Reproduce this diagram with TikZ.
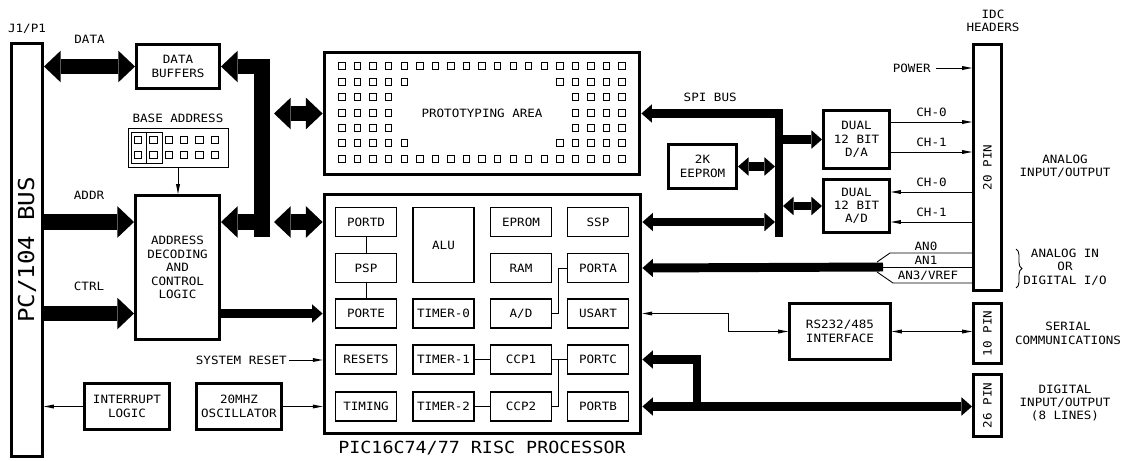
\documentclass[tikz,border=0pt]{standalone}
\usepackage{fontspec}
\setmainfont{DejaVu Sans Mono}[FakeStretch=1.1]
\usepackage{tikz}
\usetikzlibrary{arrows.meta}
\usetikzlibrary{calc}
\usetikzlibrary{decorations.pathreplacing}

\begin{document}
\begin{tikzpicture}[x=0.02cm, y=-0.02cm,
    every node/.style={font=\fontsize{6.5}{7.6}\selectfont, align=center, inner sep=0pt},
    blk/.style={draw, line width=1.7pt},
    cpu/.style={draw, line width=2.2pt},
    sub/.style={draw, line width=0.6pt, minimum width=1.22cm, minimum height=0.58cm},
    pad/.style={line width=0.5pt},
    wire/.style={line width=0.5pt, >={Triangle[width=2.3pt,length=5.6pt,line width=0pt]}},
    bus/.style={line width=5.1pt, >={Triangle[width=10.5pt,length=6pt,line width=0pt]}},
    widebus/.style={line width=9pt, >={Triangle[width=18pt,length=9.5pt,line width=0pt]}}]

  \useasboundingbox (0,0) rectangle (1122,460);

  % PC/104 side
  \node[blk, minimum width=0.62cm, minimum height=8.26cm] (pc) at (27,250)
      {\rotatebox{90}{\fontsize{12.5}{12.5}\selectfont PC/104 BUS}};
  \node (j1) at (27,29) {J1/P1};

  \node[blk, minimum width=1.66cm, minimum height=0.88cm] (buf) at (178,66.5) {DATA\\BUFFERS};
  \node (base) at (178,118) {BASE ADDRESS};
  \node[draw, pad, minimum width=2cm, minimum height=0.78cm] (dip) at (178,147.5) {};
  \draw[pad] (131,132) rectangle (162,163) (146.5,132) -- (146.5,163);
  \foreach \c in {0,...,5}
    \foreach \r in {140,155}
      \draw[pad] (138+15.4*\c,\r) +(-3.7,-3.7) rectangle +(3.7,3.7);
  \node[blk, minimum width=1.68cm, minimum height=2.88cm] (addr) at (177.5,267.5)
      {ADDRESS\\DECODING\\AND\\CONTROL\\LOGIC};
  \node[blk, minimum width=1.7cm, minimum height=0.92cm] (int) at (127,406.5) {INTERRUPT\\LOGIC};
  \node[blk, minimum width=1.7cm, minimum height=0.92cm] (osc) at (239,406.5) {20MHZ\\OSCILLATOR};
  \node[anchor=east] (rst) at (287,360) {SYSTEM RESET};

  % prototyping area
  \node[cpu, minimum width=6.3cm, minimum height=2.44cm] (proto) at (482,113.5) {PROTOTYPING AREA};
  \foreach \r in {66,159}
    \foreach \c in {0,...,18}
      \draw[pad] (342+15.56*\c,\r) +(-3.2,-3.2) rectangle +(3.2,3.2);
  \foreach \r in {82,143}
    \foreach \c in {0,1,2,3,4,14,15,16,17,18}
      \draw[pad] (342+15.56*\c,\r) +(-3.2,-3.2) rectangle +(3.2,3.2);
  \foreach \r in {97,113,128}
    \foreach \c in {0,1,2,3,15,16,17,18}
      \draw[pad] (342+15.56*\c,\r) +(-3.2,-3.2) rectangle +(3.2,3.2);

  % processor
  \node[cpu, minimum width=6.32cm, minimum height=4.78cm] (proc) at (482.5,314) {};
  \node[font=\fontsize{9.5}{9.5}\selectfont] (proclbl) at (482,448) {PIC16C74/77 RISC PROCESSOR};
  \node[sub] (portd) at (366,222) {PORTD};
  \node[sub, minimum height=1.5cm] (alu) at (443.5,245) {ALU};
  \node[sub] (eprom) at (521,222) {EPROM};
  \node[sub] (ssp) at (598,222) {SSP};
  \node[sub] (psp) at (366,268) {PSP};
  \node[sub] (ram) at (521,268) {RAM};
  \node[sub] (porta) at (598,268) {PORTA};
  \node[sub] (porte) at (366,313.5) {PORTE};
  \node[sub] (tmr0) at (443.5,313.5) {TIMER-0};
  \node[sub] (adcv) at (521,313.5) {A/D};
  \node[sub] (usart) at (598,313.5) {USART};
  \node[sub] (resets) at (366,359.5) {RESETS};
  \node[sub] (tmr1) at (443.5,359.5) {TIMER-1};
  \node[sub] (ccp1) at (521,359.5) {CCP1};
  \node[sub] (portc) at (598,359.5) {PORTC};
  \node[sub] (timing) at (366,406.5) {TIMING};
  \node[sub] (tmr2) at (443.5,406.5) {TIMER-2};
  \node[sub] (ccp2) at (521,406.5) {CCP2};
  \node[sub] (portb) at (598,406.5) {PORTB};

  \draw[pad] (portd.south) -- (psp.north) (psp.south) -- (porte.north);
  \draw[pad] (tmr1.east) -- (ccp1.west) (tmr2.east) -- (ccp2.west) (ccp1.east) -- (portc.west);
  \coordinate (cj) at ($(ccp1.east)!0.45!(portc.west)$);
  \draw[pad] (ccp2.east) -| (cj);
  \draw[pad] (adcv.east) -| ($(adcv.east)!0.45!(usart.west)$) |- (porta.west);

  % right side blocks
  \node[blk, minimum width=1.36cm, minimum height=0.88cm] (ee) at (702.5,166.5) {2K\\EEPROM};
  \node[blk, minimum width=1.32cm, minimum height=1.16cm] (dac) at (856.5,139.5) {DUAL\\12 BIT\\D/A};
  \node[blk, minimum width=1.32cm, minimum height=1.06cm] (adc) at (856.5,206) {DUAL\\12 BIT\\A/D};
  \node[blk, minimum width=2.02cm, minimum height=1.12cm] (rs) at (840,331.5) {RS232/485\\INTERFACE};
  \node[blk, minimum width=0.56cm, minimum height=4.92cm] (p20) at (987.5,167.5) {\rotatebox{90}{20 PIN}};
  \node[blk, minimum width=0.56cm, minimum height=1.2cm] (p10) at (987.5,333.5) {\rotatebox{90}{10 PIN}};
  \node[blk, minimum width=0.56cm, minimum height=1.24cm] (p26) at (987.5,405.5) {\rotatebox{90}{26 PIN}};

  \node (idc) at (993,21) {IDC\\HEADERS};
  \node (aio) at (1065,166.5) {ANALOG\\INPUT/OUTPUT};
  \node (aor) at (1065,267) {ANALOG IN\\OR\\DIGITAL I/O};
  \node (ser) at (1068,333.5) {SERIAL\\COMMUNICATIONS};
  \node (dio) at (1065,403) {DIGITAL\\INPUT/OUTPUT\\(8 LINES)};
  \draw[pad, decorate, decoration={brace, amplitude=3.4pt}] (1016,249) -- (1016,288);

  % left connectors
  \draw[widebus,<->] (pc.east |- buf) -- (buf.west) node[midway, above=8.5pt] {DATA};
  \draw[widebus,->] (pc.east |- portd) -- (addr.west |- portd) node[midway, above=8.5pt] {ADDR};
  \draw[widebus,->] (pc.east |- porte) -- (addr.west |- porte) node[midway, above=8.5pt] {CTRL};
  \coordinate (dbus) at (262,237);
  \draw[widebus,<-] (buf.east) -- (dbus |- buf) -- (dbus);
  \draw[widebus,->] (dbus |- portd) -- (addr.east |- portd);
  \coordinate (dlink) at (274,113.5);
  \draw[widebus,<->] (dlink) -- (proto.west);
  \draw[widebus,<->] (dlink |- portd) -- (proc.west |- portd);
  \draw[bus,->] (addr.east |- porte) -- (proc.west |- porte);
  \draw[wire,->] (dip.south) -- (dip.south |- addr.north);
  \draw[wire,->] ([xshift=1pt]rst.east) -- (proc.west |- rst);
  \draw[wire,->] (int.west) -- (pc.east |- int);
  \draw[wire,->] (osc.east) -- (proc.west |- osc);

  % SPI bus
  \coordinate (spi) at (779,237);
  \coordinate (spil) at (775,237);
  \coordinate (spir) at (783,237);
  \draw[bus,<-] (proto.east) -- node[above=4pt] {SPI BUS} (spi |- proto) -- (spi);
  \draw[bus,<->] (proc.east |- ssp) -- (spil |- ssp);
  \draw[bus,<->] (ee.east) -- (spil |- ee);
  \draw[bus,->] (spir |- dac) -- (dac.west);
  \draw[bus,<->] (spir |- adc) -- (adc.west);

  % analog channels
  \node[anchor=east] (pwr) at (931,68) {POWER};
  \draw[wire,->] ([xshift=3pt]pwr.east) -- (p20.west |- pwr);
  \draw[wire,->] (dac.east |- 0,122) -- (p20.west |- 0,122) node[midway, above=2.7pt] {CH-0};
  \draw[wire,->] (dac.east |- 0,152) -- (p20.west |- 0,152) node[midway, above=2.7pt] {CH-1};
  \draw[wire,<-] (adc.east |- 0,192) -- (p20.west |- 0,192) node[midway, above=2.7pt] {CH-0};
  \draw[wire,<-] (adc.east |- 0,222) -- (p20.west |- 0,222) node[midway, above=2.7pt] {CH-1};

  % port A lines
  \coordinate (anj) at (883,267);
  \draw[bus,->] (anj) -- (proc.east |- porta);
  \draw[wire] (anj) ++(-6,-5) -- ++(13,-9) -- (p20.west |- 0,253);
  \draw[wire] (anj) ++(-6,0) -- (p20.west |- anj);
  \draw[wire] (anj) ++(-6,5) -- ++(16,11) -- (p20.west |- 0,283);
  \node (an0) at (926,246) {AN0};
  \node (an1) at (926,260) {AN1};
  \node (an3) at (928,276) {AN3/VREF};

  % serial and digital ports
  \coordinate (ustep) at (728,0);
  \draw[wire,<->] (proc.east |- usart) -- (ustep |- usart) |- (rs.west);
  \draw[wire,<->] (rs.east) -- (p10.west |- rs);
  \coordinate (pcb) at (697,0);
  \draw[bus,<->] (proc.east |- portb) -- (p26.west |- portb);
  \draw[bus,<-] (proc.east |- portc) -- (pcb |- portc) -- (pcb |- portb);
\end{tikzpicture}
\end{document}
